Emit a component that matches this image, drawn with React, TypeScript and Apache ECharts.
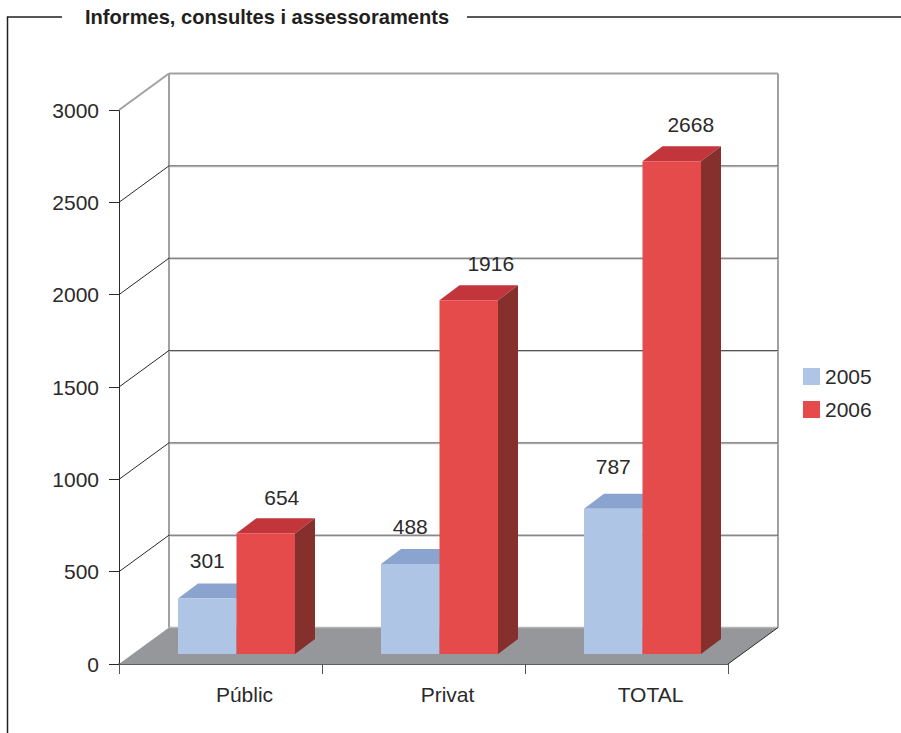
import React, { useEffect, useRef } from "react";
import * as echarts from "echarts";

const categories = ["Públic", "Privat", "TOTAL"];
const values2005 = [301, 488, 787];
const values2006 = [654, 1916, 2668];
const gridTicks = [0, 500, 1000, 1500, 2000, 2500, 3000];
const titleText = "Informes, consultes i assessoraments";

const FONT = '"Liberation Sans", Arial, sans-serif';
const TEXT = "#2b2a2a";
const DX = 50;
const DY = -36.5;
const BAR_SHIFT = 16;
const BAR_LIFT = 10;
const BAR_DX = 20;
const BAR_DY = -15;
const BAR_W = 58.5;

const poly = (points: number[][], fill: string, z2 = 0) => ({
  type: "polygon",
  z2,
  shape: { points },
  style: { fill, stroke: "none" },
});
const seg = (x1: number, y1: number, x2: number, y2: number, stroke: string, lineWidth: number, z2 = 1) => ({
  type: "line",
  z2,
  shape: { x1, y1, x2, y2 },
  style: { stroke, lineWidth, fill: "none" },
});

function renderScene(params: any, api: any) {
  const v = api.value(1);
  const cs = params.coordSys;
  const L = cs.x;
  const R = cs.x + cs.width;
  const y = api.coord([0, v])[1];
  const children: any[] = [];
  if (v === 0) {
    const top = api.coord([0, 3000])[1];
    children.push(poly([[L, y], [L + DX, y + DY], [R + DX, y + DY], [R, y]], "#96979a"));
    children.push(seg(L + DX, y + DY, R + DX, y + DY, "#b5b6b8", 1.5));
    children.push(seg(L + DX, top + DY, L + DX, y + DY, "#a0a1a3", 2));
    children.push(seg(R + DX, top + DY, R + DX, y + DY, "#a0a1a3", 2));
    children.push(seg(R, y, R + DX, y + DY, "#2b2a2a", 1));
  } else if (v === 3000) {
    children.push(seg(L, y, L + DX, y + DY, "#a0a1a3", 2));
    children.push(seg(L + DX, y + DY, R + DX, y + DY, "#a0a1a3", 2));
  } else {
    children.push(seg(L, y, L + DX, y + DY, "#2b2a2a", 1));
    children.push(seg(L + DX, y + DY + 1, R + DX, y + DY + 1, "#c4c5c7", 1));
    children.push(seg(L + DX, y + DY, R + DX, y + DY, "#55565a", 1));
  }
  return { type: "group", children };
}

const labelShift2005 = [[0, -38], [0, -37], [0, -42]];
const labelShift2006 = [[16, -36], [22, -37], [19, -37]];

function makeBar(side: number, front: string, top: string, right: string, shifts: number[][]) {
  return (params: any, api: any) => {
    const cat = api.value(0);
    const val = api.value(1);
    const [cx, yv] = api.coord([cat, val]);
    const y0 = api.coord([cat, 0])[1] - BAR_LIFT;
    const y1 = yv - BAR_LIFT;
    const x0 = cx + BAR_SHIFT + (side === 0 ? -BAR_W : 0);
    const x1 = x0 + BAR_W;
    const sh = shifts[params.dataIndex];
    return {
      type: "group",
      children: [
        poly([[x0, y1], [x0 + BAR_DX, y1 + BAR_DY], [x1 + BAR_DX, y1 + BAR_DY], [x1, y1]], top),
        poly([[x1, y1], [x1 + BAR_DX, y1 + BAR_DY], [x1 + BAR_DX, y0 + BAR_DY], [x1, y0]], right),
        { type: "rect", shape: { x: x0, y: y1, width: BAR_W, height: y0 - y1 }, style: { fill: front } },
        {
          type: "text",
          x: (x0 + x1) / 2 + sh[0],
          y: y1 + sh[1],
          style: { text: String(val), fontSize: 21, fontFamily: FONT, fill: TEXT, align: "center", verticalAlign: "middle" },
        },
      ],
    };
  };
}

export default function App() {
  const ref = useRef<HTMLDivElement>(null);
  useEffect(() => {
    document.body.style.margin = "0";
    const chart = echarts.init(ref.current!, undefined, { renderer: "svg" });
    const axisText = { color: TEXT, fontSize: 21, fontFamily: FONT };
    chart.setOption({
      animation: false,
      backgroundColor: "#fff",
      title: {
        text: titleText,
        left: 85,
        top: 7,
        padding: 0,
        textStyle: { color: "#231f20", fontSize: 20.1, fontWeight: "bold", fontFamily: FONT },
      },
      legend: {
        orient: "vertical",
        left: 803,
        top: 366,
        padding: 0,
        icon: "rect",
        itemWidth: 17,
        itemHeight: 17,
        itemGap: 12,
        data: ["2005", "2006"],
        textStyle: { ...axisText },
      },
      grid: { left: 119, top: 110, width: 609, height: 554, containLabel: false },
      xAxis: {
        type: "category",
        data: categories,
        axisLine: { lineStyle: { color: "#2b2a2a", width: 1.5 } },
        axisTick: { show: true, length: 10, lineStyle: { color: "#555", width: 1 } },
        axisLabel: { ...axisText, margin: 20, padding: [0, 0, 0, 48] },
        splitLine: { show: false },
      },
      yAxis: {
        type: "value",
        min: 0,
        max: 3000,
        interval: 500,
        axisLine: { show: true, lineStyle: { color: "#2b2a2a", width: 1 } },
        axisTick: { show: true, length: 10, lineStyle: { color: "#2b2a2a", width: 1 } },
        axisLabel: { ...axisText, margin: 20, padding: [3, 0, 0, 0], formatter: (v: number) => String(v) },
        splitLine: { show: false },
      },
      graphic: [
        { type: "polyline", shape: { points: [[62, 17], [7.5, 17], [7.5, 733]] }, style: { stroke: "#231f20", lineWidth: 1.5, fill: "none" } },
        { type: "line", shape: { x1: 467, y1: 17, x2: 901, y2: 17 }, style: { stroke: "#231f20", lineWidth: 1.5 } },
      ],
      series: [
        {
          type: "custom",
          name: "grid3d",
          z: 1,
          silent: true,
          renderItem: renderScene,
          encode: { x: 0, y: 1 },
          data: gridTicks.map((t) => [0, t]),
        },
        {
          type: "custom",
          name: "2005",
          z: 2,
          itemStyle: { color: "#afc5e5" },
          renderItem: makeBar(0, "#afc5e5", "#8aa4cf", "#6f86aa", labelShift2005),
          encode: { x: 0, y: 1 },
          data: values2005.map((v, i) => [i, v]),
        },
        {
          type: "custom",
          name: "2006",
          z: 3,
          itemStyle: { color: "#e54b4b" },
          renderItem: makeBar(1, "#e54b4b", "#c2363b", "#85302d", labelShift2006),
          encode: { x: 0, y: 1 },
          data: values2006.map((v, i) => [i, v]),
        },
      ],
    });
    return () => chart.dispose();
  }, []);
  return <div ref={ref} style={{ width: 901, height: 733 }} />;
}
